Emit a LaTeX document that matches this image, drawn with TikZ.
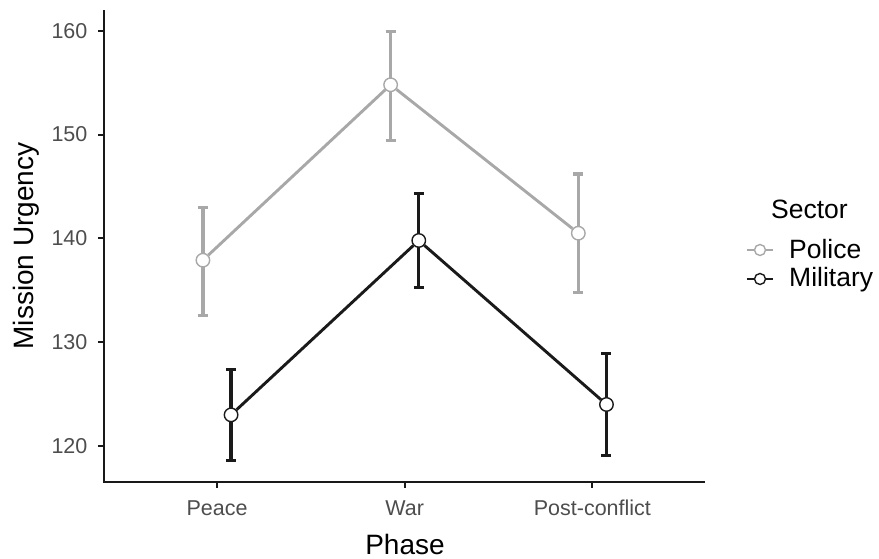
\documentclass[tikz,border=0pt]{standalone}
\usepackage{fontspec}
\setmainfont{Liberation Sans}
\usepackage{tikz}
\usetikzlibrary{positioning}
\definecolor{policegray}{HTML}{A8A8A8}
\definecolor{militaryblack}{HTML}{1A1A1A}
\definecolor{ticktext}{HTML}{4D4D4D}

\begin{document}
\begin{tikzpicture}[
  x=1pt, y=1pt,
  axisline/.style={line width=2pt,black!90},
  trend/.style={line width=2.9pt},
  errbar/.style={line width=3.2pt},
  marker/.style={circle,fill=white,line width=1.4pt,minimum size=13.5pt,inner sep=0pt},
  keymarker/.style={circle,fill=white,line width=1.4pt,minimum size=11pt,inner sep=0pt},
  ticklabel/.style={font=\fontsize{21.5}{24}\selectfont,text=ticktext,inner sep=0pt},
  axistitle/.style={font=\fontsize{28}{32}\selectfont,inner sep=0pt},
  legtext/.style={font=\fontsize{26.5}{30}\selectfont,inner sep=0pt}
]
\useasboundingbox (0,0) rectangle (879,559);

% Datenbereich: x = Phase, y = Mission Urgency
\begin{scope}[shift={(29.3pt,-1132.6pt)},x=187.7pt,y=10.38pt]

% Achsen
\coordinate (origin) at (0.4,116.53);
\coordinate (ytop) at (0.4,162);
\coordinate (xend) at (3.6,116.53);
\draw[axisline] (ytop) -- (origin) -- (xend);

\foreach \v in {120,130,...,160}{
  \draw[axisline] (0.4,\v) -- ++(-6pt,0)
    node[ticklabel,anchor=east,xshift=-10pt] (ylab\v) {\v};
}

\foreach \c/\name in {1/Peace,2/War,3/Post-conflict}{
  \draw[axisline] (\c,116.53) -- ++(0,-6pt);
  \path (\c,116.53) ++(0,-33pt)
    node[ticklabel,anchor=base] (xlab\c) {\name};
}

% Police
\foreach \c/\m/\hi/\lo in {1/137.9/143.0/132.6,2/154.8/159.9/149.4,3/140.5/146.2/134.8}{
  \draw[errbar,policegray] ({\c-0.075},\lo) ++(-5pt,0) -- ++(10pt,0)
    ({\c-0.075},\lo) -- ({\c-0.075},\hi) ++(-5pt,0) -- ++(10pt,0);
  \node[marker,draw=policegray] (pol\c) at ({\c-0.075},\m) {};
}
\draw[trend,policegray] (pol1) -- (pol2) -- (pol3);

% Military
\foreach \c/\m/\hi/\lo in {1/123.0/127.4/118.6,2/139.8/144.3/135.3,3/124.0/128.9/119.1}{
  \draw[errbar,militaryblack] ({\c+0.075},\lo) ++(-5pt,0) -- ++(10pt,0)
    ({\c+0.075},\lo) -- ({\c+0.075},\hi) ++(-5pt,0) -- ++(10pt,0);
  \node[marker,draw=militaryblack] (mil\c) at ({\c+0.075},\m) {};
}
\draw[trend,militaryblack] (mil1) -- (mil2) -- (mil3);
\end{scope}

% Achsentitel
\node[axistitle,rotate=90,anchor=base] (ytitle) at (33.3,313) {Mission Urgency};
\node[axistitle,anchor=base] (xtitle) at (405,4) {Phase};

% Legende
\node[legtext,anchor=base west] (legtitle) at (771,340) {Sector};

\coordinate (polkeyL) at (747,309);
\coordinate (polkeyR) at (773,309);
\draw[trend,policegray] (polkeyL) -- (polkeyR);
\node[keymarker,draw=policegray] (polkey) at (760,309) {};
\node[legtext,anchor=base west] (pollab) at (789,300) {Police};

\coordinate (milkeyL) at (747,280);
\coordinate (milkeyR) at (773,280);
\draw[trend,militaryblack] (milkeyL) -- (milkeyR);
\node[keymarker,draw=militaryblack] (milkey) at (760,280) {};
\node[legtext,anchor=base west] (millab) at (789,272) {Military};
\end{tikzpicture}
\end{document}
